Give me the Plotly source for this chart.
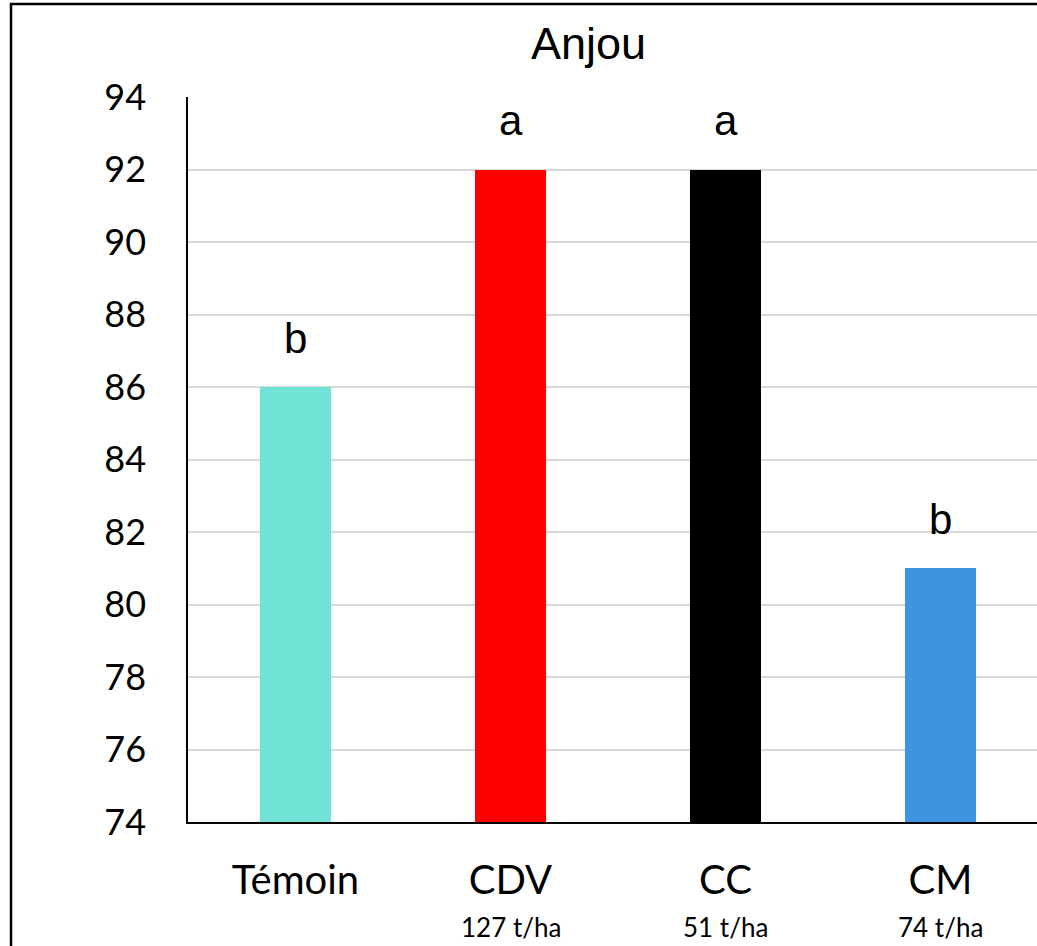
import plotly.graph_objects as go

categories = ["Témoin", "CDV", "CC", "CM"]
subtitles = ["", "127 t/ha", "51 t/ha", "74 t/ha"]
values = [86, 92, 92, 81]
letters = ["b", "a", "a", "b"]
colors = ["#70E2D6", "#FF0000", "#000000", "#3D95E2"]
y_ticks = list(range(74, 95, 2))

W, H = 1037, 946
L, R, T, B = 188, 0, 97, 124
plot_w = W - L - R
plot_h = H - T - B

FONT = "Lato"
ARIAL = "Liberation Sans, Arial"

fig = go.Figure()
fig.add_trace(go.Bar(
    x=list(range(len(categories))), y=[v - 74 for v in values], base=74,
    marker=dict(color=colors, line=dict(width=0)),
    width=0.326, showlegend=False, hoverinfo="skip",
))

for i, (v, t) in enumerate(zip(values, letters)):
    fig.add_annotation(x=i, y=v, text=t, showarrow=False, yshift=49, yanchor="middle",
                       font=dict(family=ARIAL, size=42, color="#000"))

for i, s in enumerate(subtitles):
    if s:
        fig.add_annotation(x=i, y=0, yref="paper", text=s, showarrow=False, yanchor="middle",
                           yshift=-105, font=dict(family=FONT, size=26, color="#000"))

fig.add_annotation(x=(588 - L) / plot_w, y=(H - B - 44) / plot_h, xref="paper", yref="paper",
                   yanchor="middle", xanchor="center",
                   text="Anjou", showarrow=False, font=dict(family=ARIAL, size=45, color="#000"))

# outer chart border (partially cropped)
fig.add_shape(type="rect", xref="paper", yref="paper",
              x0=(11 - L) / plot_w, x1=1.2, y0=-0.5, y1=(H - B - 4) / plot_h,
              line=dict(color="#000", width=2.5), fillcolor="rgba(0,0,0,0)", layer="below")

fig.update_layout(
    width=W, height=H,
    margin=dict(l=L, r=R, t=T, b=B, pad=0),
    paper_bgcolor="white", plot_bgcolor="white",
    font=dict(family=FONT, color="#000"),
    bargap=0,
)
fig.update_xaxes(
    range=[-0.5, -0.5 + plot_w / 215.0],
    tickmode="array", tickvals=list(range(len(categories))), ticktext=categories,
    tickfont=dict(family=FONT, size=40, color="#000"),
    showline=True, linecolor="#000", linewidth=1.5,
    showgrid=False, ticks="", ticklabelstandoff=22, zeroline=False,
)
fig.update_yaxes(
    range=[74, 94], tickmode="array", tickvals=y_ticks,
    tickfont=dict(family=FONT, size=36, color="#000"),
    showline=True, linecolor="#000", linewidth=1.5,
    showgrid=True, gridcolor="#D9D9D9", gridwidth=1.5,
    ticks="", ticklabelstandoff=33, zeroline=False,
)

fig.write_html("out.html", config={"displayModeBar": False},
               post_script="document.body.style.margin='0';document.body.style.overflow='hidden';")
